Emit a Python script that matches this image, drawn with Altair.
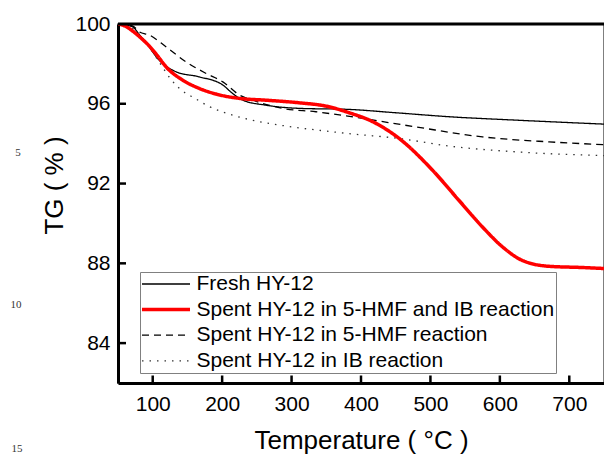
import altair as alt
import pandas as pd

series_names = [
    "Fresh HY-12",
    "Spent HY-12 in 5-HMF and IB reaction",
    "Spent HY-12 in 5-HMF reaction",
    "Spent HY-12 in IB reaction",
]

fresh_T = [50, 71, 81, 95, 105, 134, 167, 201, 215, 230, 263, 311, 381, 450, 527, 623, 750]
fresh_v = [100, 99.86, 99.45, 98.85, 98.36, 97.6, 97.35, 96.94, 96.52, 96.18, 95.93, 95.77, 95.72, 95.55, 95.35, 95.18, 94.98]

red_T = [50, 60, 71, 83, 95, 107, 119, 143, 167, 191, 225, 263, 311, 350, 383, 417, 455, 503, 541, 575, 604, 632, 671, 719, 750]
red_v = [100, 99.9, 99.65, 99.3, 98.9, 98.4, 97.86, 97.19, 96.77, 96.49, 96.27, 96.18, 96.05, 95.88, 95.55, 95.10, 94.26, 92.67, 91.16, 89.82, 88.82, 88.15, 87.85, 87.79, 87.74]

hmf_T = [50, 71, 81, 95, 119, 148, 177, 201, 225, 244, 287, 335, 381, 479, 575, 671, 750]
hmf_v = [100, 99.9, 99.6, 99.45, 98.86, 98.1, 97.52, 97.1, 96.44, 96.18, 95.77, 95.6, 95.38, 94.84, 94.34, 94.09, 93.95]

ib_T = [50, 71, 91, 110, 127, 148, 157, 182, 215, 254, 301, 350, 381, 455, 527, 623, 750]
ib_v = [100, 99.78, 99.03, 98.06, 97.19, 96.52, 96.35, 95.85, 95.43, 95.1, 94.84, 94.63, 94.51, 94.26, 93.88, 93.59, 93.4]

x_ticks = [100, 200, 300, 400, 500, 600, 700]
y_ticks = [84, 88, 92, 96]

rows = []
for name, ts, vs in zip(series_names, [fresh_T, red_T, hmf_T, ib_T], [fresh_v, red_v, hmf_v, ib_v]):
    for t, v in zip(ts, vs):
        rows.append({"series": name, "T": t, "TG": v})
df = pd.DataFrame(rows)

RED = series_names[1]
FONT = "Liberation Sans"
W, H = 486, 359

xscale = alt.Scale(domain=[50, 750], nice=False, zero=False)
yscale = alt.Scale(domain=[82, 100], nice=False, zero=False)

legend = alt.Legend(
    orient="none", legendX=22, legendY=248, title=None,
    symbolType="M-1,0H3.8", symbolSize=400, labelFontSize=21, labelFont=FONT,
    labelColor="black", strokeColor="#808080", padding=1.5, rowPadding=3.6,
    labelOffset=34, labelLimit=600,
    symbolStrokeWidth={"expr": "datum.value == '" + RED + "' ? 3.5 : 1.3"},
)

color = alt.Color("series:N", scale=alt.Scale(domain=series_names,
                  range=["#000000", "#ff0000", "#000000", "#333333"]), legend=legend)
dash = alt.StrokeDash("series:N", scale=alt.Scale(domain=series_names,
                      range=[[1, 0], [1, 0], [7, 5], [1.5, 6]]), legend=legend)

xaxis = alt.Axis(
    title="Temperature ( °C )", values=x_ticks, ticks=False, tickSize=0,
    labelFontSize=21, labelFont=FONT, labelColor="black", labelPadding=10,
    domainColor="black", domainWidth=3, grid=False,
    titleFont=FONT, titleFontSize=26, titleFontWeight="normal", titleColor="black",
    titleBaseline="alphabetic", titleY=65)
yaxis = alt.Axis(
    title="TG ( % )", values=y_ticks + [100], ticks=False, tickSize=0,
    labelFontSize=21, labelFont=FONT, labelColor="black", labelPadding=8,
    domainColor="black", domainWidth=3, grid=False,
    titleFont=FONT, titleFontSize=26, titleFontWeight="normal", titleColor="black",
    titleAngle=270, titleBaseline="alphabetic", titleAlign="center",
    titleX=-56, titleY=161)

base = alt.Chart(df).encode(
    x=alt.X("T:Q", scale=xscale, axis=xaxis),
    y=alt.Y("TG:Q", scale=yscale, axis=yaxis),
    color=color, strokeDash=dash, order=alt.Order("T:Q"),
)
others = base.transform_filter(alt.datum.series != RED).mark_line(
    clip=True, interpolate="monotone", strokeWidth=1.3)
red = base.transform_filter(alt.datum.series == RED).mark_line(
    clip=True, interpolate="monotone", strokeWidth=3.5)

top_border = alt.Chart(pd.DataFrame({"a": [0]})).mark_rule(color="black", strokeWidth=3).encode(
    x=alt.value(0), x2=alt.value(W), y=alt.value(0))

xt = alt.Chart(pd.DataFrame({"t": x_ticks})).mark_rule(color="black", strokeWidth=2.5).encode(
    x=alt.X("t:Q", scale=xscale), y=alt.value(H), y2=alt.value(H - 7.5))
yt = alt.Chart(pd.DataFrame({"v": y_ticks})).mark_rule(color="black", strokeWidth=2.5).encode(
    y=alt.Y("v:Q", scale=yscale), x=alt.value(0), x2=alt.value(8))

stray = []
for txt, px, py in [("5", -100, 129), ("10", -102, 281), ("15", -101, 425)]:
    stray.append(alt.Chart(pd.DataFrame({"s": [txt]})).mark_text(
        font="Liberation Serif", fontSize=11, color="#333333", baseline="middle", align="center"
    ).encode(text="s:N", x=alt.value(px), y=alt.value(py)))

chart = alt.layer(others, red, top_border, xt, yt, *stray).properties(
    width=W, height=H,
    autosize=alt.AutoSizeParams(type="none"),
    padding={"left": 118, "top": 24, "right": 0, "bottom": 72},
    background="white",
).configure_view(stroke="#555555", strokeWidth=1.5)

chart.save("out.html", embed_options={"renderer": "svg", "actions": False})
